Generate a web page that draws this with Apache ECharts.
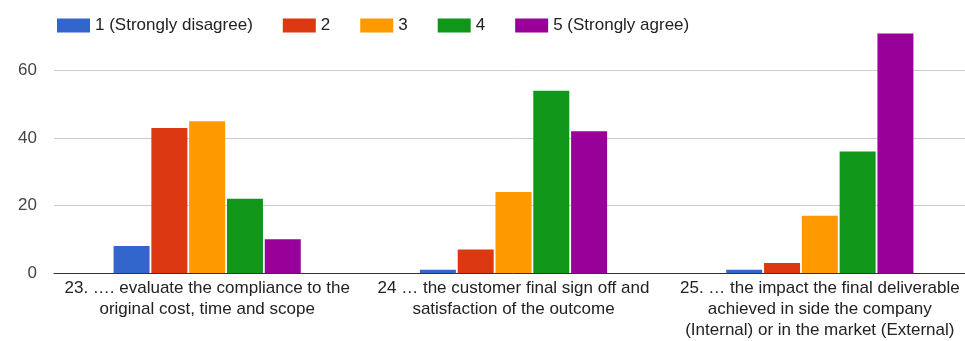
<!DOCTYPE html>
<html>
<head>
<meta charset="utf-8">
<script src="https://cdn.jsdelivr.net/npm/echarts@6/dist/echarts.min.js"></script>
<style>
  html, body { margin: 0; padding: 0; background: #fff; overflow: hidden; }
  #wrap { width: 965px; height: 341px; overflow: hidden; }
  #chart { width: 975px; height: 341px; }
</style>
</head>
<body>
<div id="wrap"><div id="chart"></div></div>
<script>
// Survey statements (x-axis categories)
const categories = [
  "23. …. evaluate the compliance to the\noriginal cost, time and scope",
  "24 … the customer final sign off and\nsatisfaction of the outcome",
  "25. … the impact the final deliverable\nachieved in side the company\n(Internal) or in the market (External)"
];

// Response counts per rating level
const seriesNames = ["1 (Strongly disagree)", "2", "3", "4", "5 (Strongly agree)"];
const rating1 = [8, 1, 1];
const rating2 = [43, 7, 3];
const rating3 = [45, 24, 17];
const rating4 = [22, 54, 36];
const rating5 = [10, 42, 71];
const seriesValues = [rating1, rating2, rating3, rating4, rating5];
const colors = ["#3366cc", "#dc3912", "#ff9900", "#109618", "#990099"];

const chart = echarts.init(document.getElementById("chart"));
const font = "'Liberation Sans', Arial, sans-serif";

chart.setOption({
  animation: false,
  textStyle: { fontFamily: font },
  legend: {
    left: 52,
    top: 12,
    itemWidth: 33,
    itemHeight: 14,
    itemGap: 30,
    icon: "rect",
    textStyle: { fontSize: 17, color: "#222", fontFamily: font },
    data: seriesNames
  },
  grid: { left: 54, right: 2, top: 30, bottom: 68, containLabel: false },
  xAxis: {
    type: "category",
    data: categories,
    axisTick: { show: false },
    axisLine: { lineStyle: { color: "#333", width: 1 } },
    axisLabel: {
      interval: 0,
      margin: 5,
      fontSize: 17,
      lineHeight: 21,
      color: "#222",
      fontFamily: font
    }
  },
  yAxis: {
    type: "value",
    min: 0,
    max: 72,
    interval: 20,
    axisLine: { show: false },
    axisTick: { show: false },
    axisLabel: {
      showMaxLabel: false,
      margin: 17,
      fontSize: 17,
      color: "#444",
      fontFamily: font
    },
    splitLine: {
      lineStyle: { color: ["#cccccc", "#cccccc", "#cccccc", "#cccccc", "rgba(0,0,0,0)"] }
    }
  },
  series: seriesNames.map((name, i) => ({
    name: name,
    type: "bar",
    data: seriesValues[i],
    barWidth: 36,
    barGap: "5%",
    itemStyle: { color: colors[i] }
  }))
});
</script>
</body>
</html>
